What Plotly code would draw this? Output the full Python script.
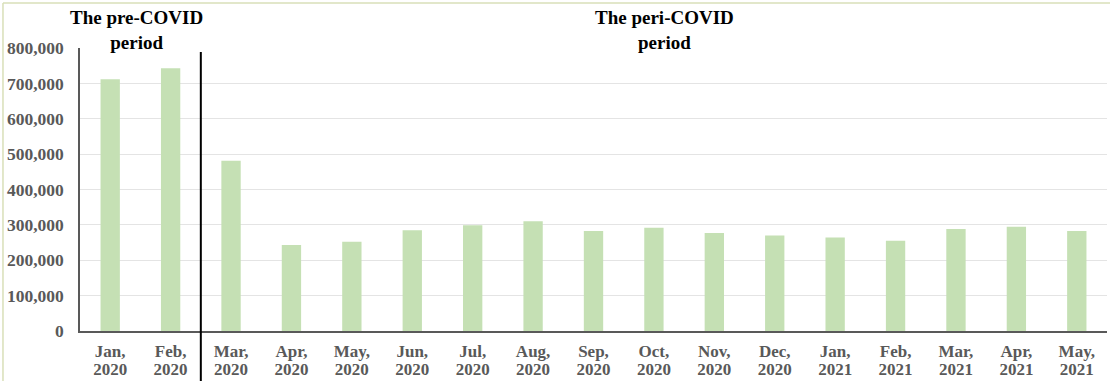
import plotly.graph_objects as go

# Monthly counts, January 2020 to May 2021
months = ["Jan", "Feb", "Mar", "Apr", "May", "Jun", "Jul", "Aug", "Sep",
          "Oct", "Nov", "Dec", "Jan", "Feb", "Mar", "Apr", "May"]
years = ["2020"] * 12 + ["2021"] * 5
counts = [712000, 743000, 481000, 243000, 252000, 285000, 299000, 310000,
          283000, 292000, 277000, 270000, 264000, 255000, 288000, 295000, 283000]
y_ticks = [0, 100000, 200000, 300000, 400000, 500000, 600000, 700000, 800000]

period_labels = ["The pre-COVID<br>period", "The peri-COVID<br>period"]

positions = list(range(len(months)))
month_text = [f"{m}," for m in months]

SERIF = "Liberation Serif, Times New Roman, serif"
GREY = "#595959"
FRAME = "#d9dfb8"

fig = go.Figure()
fig.add_trace(
    go.Bar(
        x=positions,
        y=counts,
        marker=dict(color="#c5e0b4", line=dict(width=0)),
        width=0.32,
    )
)
# Transparent companion trace so the year row (xaxis2) is rendered
fig.add_trace(
    go.Scatter(
        x=positions,
        y=counts,
        xaxis="x2",
        mode="markers",
        marker=dict(opacity=0),
        hoverinfo="skip",
        showlegend=False,
    )
)

fig.update_layout(
    width=1110,
    height=381,
    margin=dict(l=80, r=3, t=48, b=49.5),
    paper_bgcolor="white",
    plot_bgcolor="white",
    showlegend=False,
)

x_range = [-0.5, len(months) - 0.5]
label_font = dict(family=SERIF, size=17, color=GREY, weight="bold")

# Month names on the main axis, years on an overlaid second row
fig.update_layout(
    xaxis=dict(
        range=x_range,
        tickmode="array",
        tickvals=positions,
        ticktext=month_text,
        tickfont=label_font,
        showline=True,
        linecolor=GREY,
        linewidth=1.5,
        showgrid=False,
        zeroline=False,
        ticks="",
        ticklabelstandoff=4,
        automargin=False,
    ),
    xaxis2=dict(
        overlaying="x",
        anchor="y",
        side="bottom",
        range=x_range,
        tickmode="array",
        tickvals=positions,
        ticktext=years,
        tickfont=label_font,
        showline=False,
        showgrid=False,
        zeroline=False,
        ticks="",
        ticklabelstandoff=26,
        automargin=False,
    ),
)

fig.update_yaxes(
    range=[0, 800000],
    tickmode="array",
    tickvals=y_ticks,
    tickformat=",d",
    tickfont=dict(family=SERIF, size=17.5, color=GREY, weight="bold"),
    showline=True,
    linecolor=GREY,
    linewidth=1.5,
    showgrid=True,
    gridcolor="#e4e4e4",
    gridwidth=1,
    zeroline=False,
    ticks="",
    ticklabelstandoff=11,
    automargin=False,
)

# White patch behind the peri-COVID heading, hiding the top gridline there
fig.add_shape(
    type="rect", xref="paper", yref="paper", layer="above",
    x0=0.4869, x1=0.6524, y0=0.9718, y1=1.141,
    fillcolor="white", line=dict(width=0),
)

# Divider between the two periods (between Feb 2020 and Mar 2020)
fig.add_shape(
    type="line", xref="x", yref="paper",
    x0=1.5, x1=1.5, y0=-0.3, y1=0.986,
    line=dict(color="black", width=2),
)

# Thin chart-area frame along top and left edges
fig.add_shape(
    type="line", xref="paper", yref="paper",
    x0=-0.075, x1=1.2, y0=1.1587, y1=1.1587,
    line=dict(color=FRAME, width=1.5),
)
fig.add_shape(
    type="line", xref="paper", yref="paper",
    x0=-0.075, x1=-0.075, y0=-0.3, y1=1.1587,
    line=dict(color=FRAME, width=1.5),
)

heading_font = dict(family=SERIF, size=19, color="black", weight="bold")
fig.add_annotation(
    text=period_labels[0], xref="paper", yref="paper",
    x=0.0555, y=1.0635, xanchor="center", yanchor="middle",
    showarrow=False, font=heading_font,
)
fig.add_annotation(
    text=period_labels[1], xref="paper", yref="paper",
    x=0.5696, y=1.0635, xanchor="center", yanchor="middle",
    showarrow=False, font=heading_font,
)

fig.write_html("out.html")
